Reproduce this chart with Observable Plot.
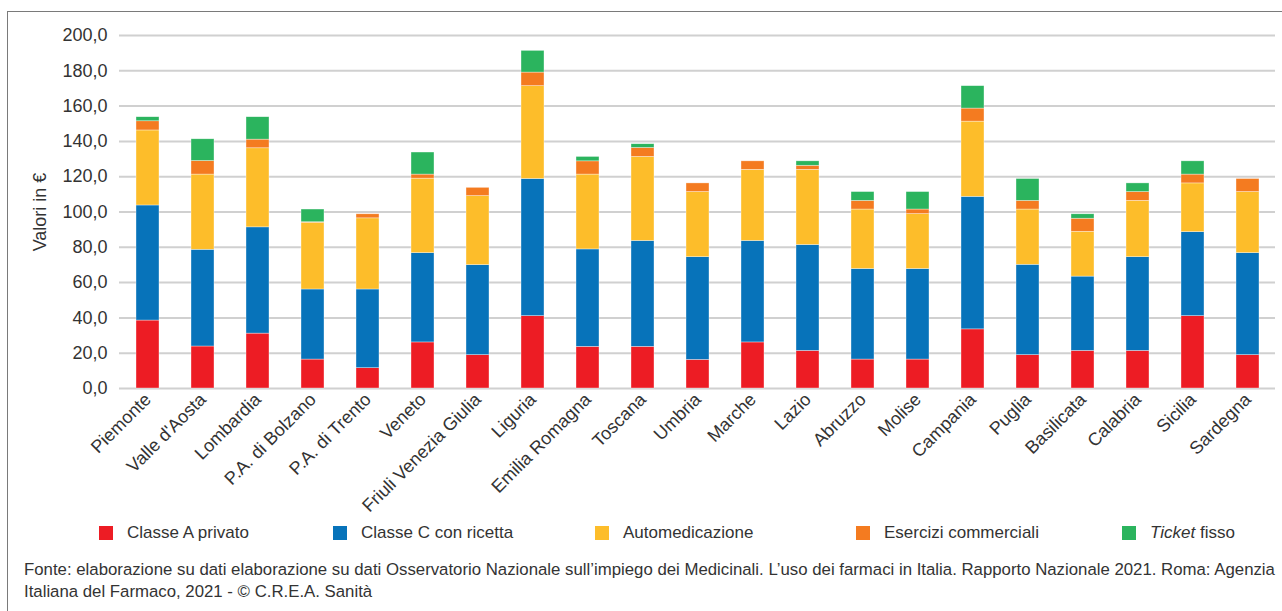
<!DOCTYPE html>
<html>
<head>
<meta charset="utf-8">
<script src="https://cdn.jsdelivr.net/npm/d3@7"></script>
<script src="https://cdn.jsdelivr.net/npm/@observablehq/plot@0.6"></script>
<style>
  html, body { margin: 0; padding: 0; background: #fff; }
  body { width: 1282px; height: 611px; position: relative; overflow: hidden; font-family: "Liberation Sans", Arial, sans-serif; color: #333; }
  #frame { position: absolute; left: 7px; top: 11px; width: 1300px; height: 700px; border-left: 1.5px solid #7a7a7a; border-top: 1.5px solid #7a7a7a; box-sizing: border-box; }
  #chart { position: absolute; left: 0; top: 0; }
  .leg { position: absolute; top: 523px; font-size: 17px; line-height: 20px; white-space: nowrap; color: #333; }
  .sw { position: absolute; top: 3px; width: 14px; height: 14px; }
  .leg span.t { position: absolute; left: 28px; top: 0; }
  #caption { position: absolute; left: 24px; top: 559px; font-size: 16.8px; line-height: 22px; color: #333; white-space: nowrap; }
</style>
</head>
<body>
<div id="frame"></div>
<div id="chart"></div>
<div id="legend"></div>
<div id="caption">Fonte: elaborazione su dati elaborazione su dati Osservatorio Nazionale sull’impiego dei Medicinali. L’uso dei farmaci in Italia. Rapporto Nazionale 2021. Roma: Agenzia<br>Italiana del Farmaco, 2021 - © C.R.E.A. Sanità</div>
<script>
const regions = ["Piemonte","Valle d'Aosta","Lombardia","P.A. di Bolzano","P.A. di Trento","Veneto","Friuli Venezia Giulia","Liguria","Emilia Romagna","Toscana","Umbria","Marche","Lazio","Abruzzo","Molise","Campania","Puglia","Basilicata","Calabria","Sicilia","Sardegna"];
const classeA = [38.5,23.8,31.1,16.4,11.5,26.1,18.9,41.0,23.6,23.6,16.2,26.1,21.3,16.4,16.4,33.5,18.9,21.3,21.3,41.0,18.9];
const classeC = [65.2,54.8,60.2,39.7,44.6,50.6,51.0,77.7,55.2,60.0,58.2,57.5,60.0,51.3,51.3,75.1,51.2,42.1,53.1,47.6,57.8];
const automedicazione = [42.5,42.6,44.8,37.8,40.3,42.2,39.1,52.6,42.4,47.6,36.9,40.3,42.6,33.7,31.1,42.6,31.3,25.4,31.9,27.6,34.6];
const esercizi = [5.2,7.7,4.9,0.3,2.3,2.3,4.7,7.7,7.5,5.1,4.9,4.8,2.3,4.9,2.6,7.4,4.9,7.4,5.0,5.0,7.4];
const ticket = [2.3,12.3,12.7,7.2,0,12.5,0,12.3,2.5,2.1,0,0,2.5,5.0,9.9,12.7,12.4,2.5,4.9,7.5,0];
const seriesNames = ["Classe A privato","Classe C con ricetta","Automedicazione","Esercizi commerciali","Ticket fisso"];
const seriesColors = ["#ED1C24","#0773BA","#FDBD2A","#F47B20","#2BB45E"];
const yTicks = [0,20,40,60,80,100,120,140,160,180,200];

const seriesValues = [classeA, classeC, automedicazione, esercizi, ticket];
const data = [];
seriesNames.forEach((s, si) => {
  regions.forEach((r, ri) => data.push({region: r, series: s, value: seriesValues[si][ri]}));
});

const fmt = d => d.toFixed(1).replace(".", ",");

const chart = Plot.plot({
  width: 1282,
  height: 520,
  marginLeft: 119,
  marginRight: 7,
  marginTop: 35,
  marginBottom: 132,
  style: { fontFamily: "'Liberation Sans', Arial, sans-serif", fontSize: "18px", color: "#333", background: "transparent" },
  x: { domain: regions, paddingInner: 0.59, paddingOuter: 0.273 },
  y: { domain: [0, 200] },
  color: { domain: seriesNames, range: seriesColors },
  marks: [
    Plot.gridY(yTicks, { stroke: "#d0d0d0", strokeWidth: 2, strokeOpacity: 1 }),
    Plot.barY(data, Plot.stackY({ order: seriesNames }, { x: "region", y: "value", fill: "series", stroke: "white", strokeWidth: 0.6, strokeOpacity: 0.6 })),
    Plot.axisY(yTicks, { tickFormat: fmt, tickSize: 0, tickPadding: 12, fontSize: 18, label: "Valori in €", labelAnchor: "center", labelOffset: 86, labelArrow: "none" }),
    Plot.axisX({ tickRotate: -45, tickSize: 0, tickPadding: 8, fontSize: 18, label: null })
  ]
});
document.getElementById("chart").appendChild(chart);

// legend
const legendX = [99, 333, 595, 856, 1122];
const legend = document.getElementById("legend");
seriesNames.forEach((s, i) => {
  const d = document.createElement("div");
  d.className = "leg";
  d.style.left = legendX[i] + "px";
  const sw = document.createElement("div");
  sw.className = "sw";
  sw.style.background = seriesColors[i];
  const t = document.createElement("span");
  t.className = "t";
  if (s === "Ticket fisso") { t.innerHTML = "<i>Ticket</i> fisso"; } else { t.textContent = s; }
  d.appendChild(sw); d.appendChild(t);
  legend.appendChild(d);
});
</script>
</body>
</html>
